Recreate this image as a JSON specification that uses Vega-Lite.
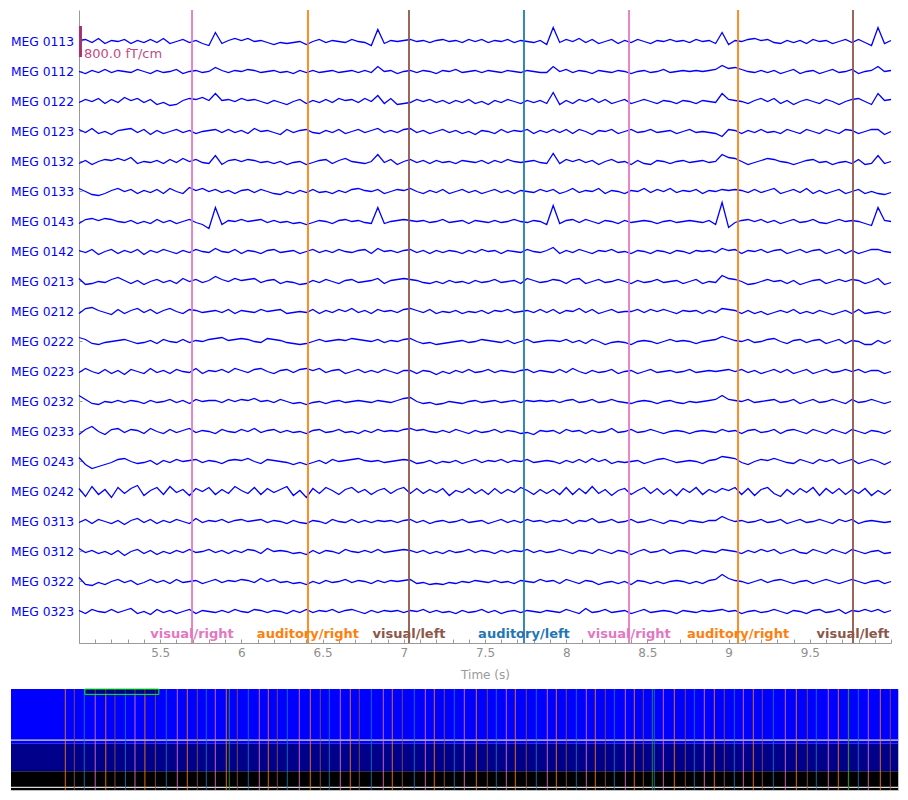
{
"$schema": "https://vega.github.io/schema/vega-lite/v6.json",
"background": "white",
"padding": {"left": 9, "top": 9, "right": 5, "bottom": 5},
"config": {"font": "DejaVu Sans", "view": {"stroke": null}},
"spacing": 8,
"datasets": {
"chans": [{"k":"a","ch":"MEG 0113"},{"k":"b","ch":"MEG 0112"},{"k":"c","ch":"MEG 0122"},{"k":"d","ch":"MEG 0123"},{"k":"e","ch":"MEG 0132"},{"k":"f","ch":"MEG 0133"},{"k":"g","ch":"MEG 0143"},{"k":"h","ch":"MEG 0142"},{"k":"i","ch":"MEG 0213"},{"k":"j","ch":"MEG 0212"},{"k":"k","ch":"MEG 0222"},{"k":"l","ch":"MEG 0223"},{"k":"m","ch":"MEG 0232"},{"k":"n","ch":"MEG 0233"},{"k":"o","ch":"MEG 0243"},{"k":"p","ch":"MEG 0242"},{"k":"q","ch":"MEG 0313"},{"k":"r","ch":"MEG 0312"},{"k":"s","ch":"MEG 0322"},{"k":"u","ch":"MEG 0323"}],
"sig": [
{"t":5,"a":1,"b":0,"c":-1,"d":2,"e":-2,"f":3,"g":-2,"h":1,"i":3,"j":-2,"k":4,"l":-1,"m":6,"n":-3,"o":4,"p":3,"q":-1,"r":3,"s":4,"u":1},
{"t":5.04,"a":2,"b":-2,"c":2,"d":-1,"e":1,"f":0,"g":2,"h":-1,"i":-3,"j":3,"k":2,"l":3,"m":2,"n":2,"o":-3,"p":-5,"q":2,"r":-1,"s":-3,"u":-2},
{"t":5.08,"a":-1,"b":1,"c":0,"d":3,"e":-3,"f":-3,"g":3,"h":2,"i":-2,"j":4,"k":-2,"l":0,"m":-2,"n":5,"o":-7,"p":5,"q":-2,"r":1,"s":-4,"u":2},
{"t":5.12,"a":3,"b":-1,"c":3,"d":-2,"e":0,"f":-4,"g":1,"h":-3,"i":0,"j":1,"k":-3,"l":-2,"m":-3,"n":0,"o":-5,"p":-3,"q":2,"r":-2,"s":-1,"u":0},
{"t":5.16,"a":-2,"b":2,"c":-2,"d":0,"e":2,"f":-2,"g":3,"h":0,"i":-1,"j":-1,"k":-1,"l":2,"m":0,"n":-3,"o":-3,"p":2,"q":0,"r":0,"s":-3,"u":-1},
{"t":5.2,"a":1,"b":-1,"c":2,"d":-3,"e":1,"f":1,"g":2,"h":2,"i":2,"j":-3,"k":0,"l":-2,"m":-1,"n":2,"o":-1,"p":-6,"q":-2,"r":-3,"s":0,"u":2},
{"t":5.24,"a":0,"b":1,"c":-1,"d":1,"e":3,"f":3,"g":0,"h":-2,"i":4,"j":2,"k":1,"l":1,"m":1,"n":3,"o":2,"p":4,"q":1,"r":1,"s":2,"u":-1},
{"t":5.28,"a":2,"b":0,"c":4,"d":2,"e":1,"f":0,"g":-1,"h":1,"i":1,"j":-2,"k":2,"l":-3,"m":-1,"n":-1,"o":3,"p":-2,"q":-3,"r":-4,"s":-1,"u":1},
{"t":5.32,"a":-2,"b":-1,"c":1,"d":3,"e":4,"f":2,"g":1,"h":-1,"i":-2,"j":1,"k":0,"l":2,"m":1,"n":2,"o":0,"p":3,"q":1,"r":0,"s":1,"u":3},
{"t":5.36,"a":1,"b":2,"c":3,"d":-1,"e":-2,"f":-2,"g":-2,"h":2,"i":1,"j":3,"k":-2,"l":0,"m":0,"n":1,"o":-2,"p":6,"q":3,"r":2,"s":-3,"u":-2},
{"t":5.4,"a":-1,"b":0,"c":-1,"d":2,"e":0,"f":1,"g":0,"h":-3,"i":-3,"j":-1,"k":-1,"l":-2,"m":-2,"n":-2,"o":-1,"p":-4,"q":-1,"r":-2,"s":-1,"u":0},
{"t":5.44,"a":2,"b":-2,"c":2,"d":-3,"e":-1,"f":-1,"g":-2,"h":1,"i":0,"j":2,"k":1,"l":3,"m":1,"n":3,"o":1,"p":1,"q":2,"r":1,"s":2,"u":-3},
{"t":5.48,"a":-1,"b":1,"c":-3,"d":1,"e":1,"f":2,"g":2,"h":-1,"i":2,"j":-2,"k":-2,"l":-1,"m":-1,"n":0,"o":-3,"p":4,"q":-2,"r":-3,"s":-1,"u":2},
{"t":5.52,"a":3,"b":-1,"c":-1,"d":-2,"e":-2,"f":-2,"g":-1,"h":2,"i":-1,"j":1,"k":2,"l":1,"m":0,"n":-2,"o":1,"p":-3,"q":1,"r":0,"s":1,"u":-1},
{"t":5.56,"a":-2,"b":0,"c":-4,"d":0,"e":2,"f":3,"g":1,"h":0,"i":1,"j":3,"k":0,"l":-2,"m":2,"n":2,"o":-1,"p":5,"q":-1,"r":-2,"s":-2,"u":1},
{"t":5.6,"a":0,"b":2,"c":-3,"d":2,"e":-1,"f":0,"g":-2,"h":-2,"i":-2,"j":0,"k":-1,"l":2,"m":-1,"n":-1,"o":2,"p":-1,"q":2,"r":1,"s":2,"u":-2},
{"t":5.64,"a":2,"b":-2,"c":1,"d":-1,"e":3,"f":-2,"g":0,"h":1,"i":3,"j":-2,"k":2,"l":0,"m":1,"n":1,"o":0,"p":2,"q":0,"r":-1,"s":-1,"u":0},
{"t":5.68,"a":-1,"b":0,"c":3,"d":1,"e":0,"f":4,"g":2,"h":-1,"i":0,"j":2,"k":-1,"l":-1,"m":-2,"n":3,"o":1,"p":-4,"q":-2,"r":2,"s":0,"u":2},
{"t":5.72,"a":1,"b":1,"c":2,"d":-2,"e":2,"f":1,"g":-1,"h":2,"i":2,"j":1,"k":1,"l":3,"m":2,"n":-1,"o":2,"p":3,"q":3,"r":-1,"s":1,"u":-2},
{"t":5.76,"a":-2,"b":-1,"c":4,"d":0,"e":-1,"f":3,"g":-3,"h":0,"i":-1,"j":-1,"k":0,"l":-2,"m":0,"n":1,"o":-1,"p":0,"q":-1,"r":0,"s":-2,"u":1},
{"t":5.8,"a":-4,"b":0,"c":1,"d":1,"e":-2,"f":0,"g":-7,"h":-1,"i":1,"j":0,"k":2,"l":1,"m":1,"n":0,"o":1,"p":4,"q":1,"r":2,"s":0,"u":0},
{"t":5.84,"a":9,"b":4,"c":8,"d":2,"e":6,"f":2,"g":14,"h":3,"i":5,"j":1,"k":3,"l":0,"m":1,"n":-2,"o":0,"p":-3,"q":0,"r":-1,"s":2,"u":-1},
{"t":5.88,"a":-2,"b":1,"c":1,"d":-1,"e":-3,"f":-1,"g":-3,"h":0,"i":2,"j":-1,"k":4,"l":2,"m":-1,"n":2,"o":-2,"p":2,"q":2,"r":1,"s":-1,"u":1},
{"t":5.92,"a":1,"b":-1,"c":2,"d":2,"e":1,"f":1,"g":1,"h":-1,"i":0,"j":2,"k":1,"l":-1,"m":2,"n":0,"o":1,"p":-2,"q":-1,"r":-2,"s":1,"u":-1},
{"t":5.96,"a":3,"b":1,"c":0,"d":-1,"e":2,"f":-2,"g":0,"h":2,"i":3,"j":-2,"k":2,"l":3,"m":0,"n":-1,"o":2,"p":5,"q":1,"r":1,"s":0,"u":2},
{"t":6,"a":1,"b":0,"c":3,"d":1,"e":0,"f":1,"g":2,"h":-2,"i":1,"j":1,"k":3,"l":1,"m":2,"n":2,"o":1,"p":1,"q":2,"r":-1,"s":2,"u":0},
{"t":6.04,"a":3,"b":2,"c":1,"d":-2,"e":2,"f":2,"g":0,"h":1,"i":2,"j":0,"k":2,"l":-1,"m":1,"n":0,"o":3,"p":-2,"q":0,"r":2,"s":1,"u":-1},
{"t":6.08,"a":0,"b":1,"c":2,"d":3,"e":1,"f":-1,"g":1,"h":0,"i":3,"j":-1,"k":0,"l":2,"m":3,"n":3,"o":0,"p":4,"q":1,"r":1,"s":-1,"u":2},
{"t":6.12,"a":1,"b":-1,"c":0,"d":0,"e":-1,"f":2,"g":2,"h":-2,"i":-1,"j":2,"k":-1,"l":3,"m":0,"n":-1,"o":-2,"p":-3,"q":2,"r":-2,"s":3,"u":1},
{"t":6.16,"a":-1,"b":0,"c":-2,"d":1,"e":0,"f":0,"g":-1,"h":1,"i":1,"j":0,"k":3,"l":0,"m":1,"n":1,"o":2,"p":3,"q":-1,"r":3,"s":0,"u":-1},
{"t":6.2,"a":-3,"b":1,"c":1,"d":-1,"e":-2,"f":-2,"g":1,"h":2,"i":2,"j":1,"k":2,"l":-2,"m":-1,"n":2,"o":1,"p":-1,"q":1,"r":0,"s":2,"u":1},
{"t":6.24,"a":-1,"b":-1,"c":-1,"d":-3,"e":0,"f":-3,"g":-1,"h":-1,"i":-2,"j":2,"k":1,"l":1,"m":2,"n":-1,"o":0,"p":2,"q":0,"r":1,"s":-1,"u":0},
{"t":6.28,"a":-2,"b":0,"c":-3,"d":2,"e":-3,"f":0,"g":0,"h":0,"i":0,"j":-2,"k":-1,"l":2,"m":0,"n":1,"o":-1,"p":5,"q":-2,"r":0,"s":0,"u":-2},
{"t":6.32,"a":-1,"b":-2,"c":0,"d":-1,"e":-1,"f":-2,"g":-2,"h":1,"i":-1,"j":-1,"k":-2,"l":-1,"m":-2,"n":-1,"o":-3,"p":-4,"q":1,"r":-2,"s":-2,"u":1},
{"t":6.36,"a":0,"b":1,"c":2,"d":1,"e":0,"f":1,"g":-1,"h":-2,"i":-3,"j":0,"k":-3,"l":2,"m":-1,"n":0,"o":-1,"p":1,"q":-1,"r":-1,"s":-1,"u":-1},
{"t":6.4,"a":-3,"b":-1,"c":-2,"d":2,"e":-3,"f":-1,"g":-3,"h":0,"i":-2,"j":-1,"k":-2,"l":3,"m":-3,"n":-2,"o":-3,"p":-6,"q":-2,"r":-3,"s":-3,"u":2},
{"t":6.44,"a":0,"b":1,"c":1,"d":-1,"e":-1,"f":2,"g":-1,"h":2,"i":1,"j":2,"k":0,"l":1,"m":-1,"n":1,"o":-1,"p":3,"q":1,"r":1,"s":0,"u":-1},
{"t":6.48,"a":2,"b":-1,"c":-1,"d":-2,"e":1,"f":-1,"g":1,"h":-1,"i":-1,"j":-2,"k":2,"l":3,"m":0,"n":2,"o":1,"p":-2,"q":0,"r":-2,"s":-2,"u":1},
{"t":6.52,"a":-1,"b":0,"c":2,"d":1,"e":2,"f":0,"g":0,"h":1,"i":2,"j":1,"k":0,"l":-1,"m":-2,"n":-1,"o":-2,"p":4,"q":-2,"r":1,"s":1,"u":0},
{"t":6.56,"a":1,"b":1,"c":-1,"d":-1,"e":-2,"f":-2,"g":-2,"h":-1,"i":0,"j":-1,"k":1,"l":1,"m":0,"n":0,"o":2,"p":1,"q":2,"r":0,"s":-1,"u":2},
{"t":6.6,"a":0,"b":-1,"c":3,"d":2,"e":1,"f":1,"g":1,"h":2,"i":-2,"j":2,"k":2,"l":2,"m":1,"n":2,"o":0,"p":-3,"q":0,"r":-2,"s":0,"u":-1},
{"t":6.64,"a":-1,"b":0,"c":1,"d":-2,"e":3,"f":-1,"g":2,"h":0,"i":1,"j":0,"k":1,"l":-2,"m":-1,"n":-1,"o":1,"p":2,"q":-1,"r":2,"s":2,"u":1},
{"t":6.68,"a":2,"b":1,"c":2,"d":0,"e":0,"f":2,"g":0,"h":-1,"i":2,"j":3,"k":3,"l":0,"m":0,"n":0,"o":2,"p":4,"q":2,"r":0,"s":-1,"u":2},
{"t":6.72,"a":0,"b":-1,"c":-1,"d":2,"e":-1,"f":3,"g":1,"h":1,"i":-1,"j":-1,"k":2,"l":2,"m":1,"n":-2,"o":3,"p":-1,"q":-1,"r":-1,"s":1,"u":0},
{"t":6.76,"a":-1,"b":1,"c":3,"d":-1,"e":-2,"f":1,"g":-1,"h":2,"i":0,"j":1,"k":1,"l":-1,"m":0,"n":1,"o":1,"p":2,"q":1,"r":1,"s":0,"u":-2},
{"t":6.8,"a":-4,"b":-1,"c":0,"d":1,"e":0,"f":0,"g":-2,"h":-2,"i":1,"j":-2,"k":0,"l":1,"m":-1,"n":-1,"o":0,"p":-3,"q":-1,"r":-1,"s":-2,"u":1},
{"t":6.84,"a":12,"b":5,"c":6,"d":3,"e":7,"f":2,"g":14,"h":3,"i":3,"j":2,"k":2,"l":-1,"m":1,"n":2,"o":1,"p":1,"q":1,"r":2,"s":1,"u":-1},
{"t":6.88,"a":-2,"b":0,"c":-2,"d":-1,"e":-1,"f":-2,"g":-2,"h":0,"i":-2,"j":0,"k":-1,"l":2,"m":0,"n":0,"o":-1,"p":3,"q":0,"r":-1,"s":-1,"u":1},
{"t":6.92,"a":1,"b":1,"c":3,"d":1,"e":2,"f":0,"g":0,"h":1,"i":1,"j":1,"k":1,"l":0,"m":-1,"n":1,"o":0,"p":-2,"q":1,"r":0,"s":1,"u":0},
{"t":6.96,"a":0,"b":-2,"c":-3,"d":-1,"e":-3,"f":2,"g":1,"h":-1,"i":2,"j":-1,"k":0,"l":-2,"m":1,"n":0,"o":1,"p":2,"q":-1,"r":1,"s":0,"u":1},
{"t":7,"a":1,"b":0,"c":-2,"d":2,"e":0,"f":1,"g":2,"h":1,"i":3,"j":2,"k":2,"l":1,"m":3,"n":2,"o":2,"p":4,"q":1,"r":2,"s":1,"u":-1},
{"t":7.04,"a":2,"b":1,"c":-1,"d":3,"e":2,"f":3,"g":1,"h":2,"i":2,"j":3,"k":3,"l":1,"m":4,"n":3,"o":1,"p":-2,"q":2,"r":1,"s":2,"u":1},
{"t":7.08,"a":0,"b":-1,"c":2,"d":-1,"e":-1,"f":0,"g":0,"h":-1,"i":1,"j":1,"k":0,"l":-2,"m":0,"n":1,"o":-2,"p":3,"q":-1,"r":-1,"s":-2,"u":0},
{"t":7.12,"a":1,"b":1,"c":0,"d":1,"e":1,"f":-2,"g":1,"h":1,"i":-1,"j":-1,"k":-2,"l":1,"m":-2,"n":2,"o":-1,"p":-2,"q":1,"r":1,"s":-1,"u":2},
{"t":7.16,"a":-1,"b":0,"c":2,"d":-2,"e":-2,"f":1,"g":-1,"h":-2,"i":-2,"j":2,"k":-1,"l":0,"m":-1,"n":0,"o":1,"p":2,"q":-2,"r":-2,"s":-3,"u":-1},
{"t":7.2,"a":1,"b":-2,"c":-1,"d":0,"e":1,"f":-1,"g":0,"h":1,"i":0,"j":-2,"k":-3,"l":-3,"m":-3,"n":-1,"o":-2,"p":-1,"q":0,"r":0,"s":-2,"u":1},
{"t":7.24,"a":2,"b":1,"c":1,"d":2,"e":-1,"f":2,"g":2,"h":-1,"i":-2,"j":0,"k":-2,"l":0,"m":-2,"n":1,"o":0,"p":3,"q":1,"r":-2,"s":-3,"u":-1},
{"t":7.28,"a":0,"b":0,"c":-2,"d":-1,"e":0,"f":-2,"g":-1,"h":1,"i":1,"j":-1,"k":-1,"l":-2,"m":0,"n":-1,"o":-1,"p":-4,"q":-1,"r":1,"s":-1,"u":0},
{"t":7.32,"a":1,"b":2,"c":1,"d":1,"e":-2,"f":0,"g":0,"h":0,"i":-1,"j":1,"k":0,"l":1,"m":-1,"n":2,"o":1,"p":1,"q":0,"r":-1,"s":-2,"u":-2},
{"t":7.36,"a":-1,"b":-1,"c":-1,"d":-2,"e":1,"f":2,"g":1,"h":-2,"i":0,"j":-2,"k":1,"l":-1,"m":-2,"n":0,"o":-2,"p":-1,"q":2,"r":0,"s":0,"u":1},
{"t":7.4,"a":2,"b":0,"c":2,"d":0,"e":0,"f":-1,"g":-2,"h":1,"i":-2,"j":0,"k":-1,"l":2,"m":0,"n":-2,"o":0,"p":3,"q":-1,"r":2,"s":-1,"u":-1},
{"t":7.44,"a":0,"b":1,"c":-2,"d":-3,"e":-1,"f":1,"g":1,"h":-1,"i":1,"j":-1,"k":0,"l":-1,"m":1,"n":1,"o":2,"p":-2,"q":0,"r":-1,"s":1,"u":0},
{"t":7.48,"a":2,"b":-1,"c":0,"d":1,"e":1,"f":-2,"g":0,"h":2,"i":-1,"j":1,"k":2,"l":0,"m":-1,"n":-1,"o":-1,"p":2,"q":1,"r":1,"s":0,"u":2},
{"t":7.52,"a":-1,"b":1,"c":-3,"d":0,"e":-2,"f":0,"g":-1,"h":0,"i":0,"j":-2,"k":1,"l":2,"m":0,"n":0,"o":1,"p":-3,"q":-2,"r":0,"s":-1,"u":-1},
{"t":7.56,"a":1,"b":0,"c":1,"d":-2,"e":1,"f":2,"g":1,"h":1,"i":2,"j":1,"k":0,"l":-1,"m":1,"n":2,"o":0,"p":3,"q":0,"r":-2,"s":1,"u":1},
{"t":7.6,"a":0,"b":-1,"c":-1,"d":2,"e":-1,"f":-1,"g":-1,"h":-2,"i":-1,"j":0,"k":-1,"l":1,"m":-1,"n":-1,"o":2,"p":-2,"q":2,"r":1,"s":-1,"u":-2},
{"t":7.64,"a":2,"b":1,"c":2,"d":-1,"e":2,"f":1,"g":0,"h":1,"i":0,"j":2,"k":1,"l":0,"m":0,"n":1,"o":-1,"p":2,"q":-1,"r":-1,"s":0,"u":0},
{"t":7.68,"a":-1,"b":0,"c":0,"d":1,"e":0,"f":-2,"g":2,"h":0,"i":1,"j":-1,"k":-2,"l":-1,"m":1,"n":0,"o":1,"p":-1,"q":1,"r":1,"s":-2,"u":1},
{"t":7.72,"a":1,"b":-1,"c":-2,"d":0,"e":-1,"f":1,"g":0,"h":-1,"i":-2,"j":0,"k":0,"l":1,"m":-1,"n":-2,"o":0,"p":4,"q":-1,"r":0,"s":1,"u":-1},
{"t":7.76,"a":0,"b":1,"c":1,"d":2,"e":0,"f":0,"g":-1,"h":2,"i":3,"j":1,"k":2,"l":2,"m":1,"n":-1,"o":2,"p":1,"q":2,"r":2,"s":0,"u":1},
{"t":7.8,"a":-1,"b":0,"c":-1,"d":-2,"e":1,"f":-1,"g":1,"h":0,"i":1,"j":-1,"k":-1,"l":-1,"m":0,"n":-3,"o":-1,"p":-3,"q":0,"r":-1,"s":-1,"u":0},
{"t":7.84,"a":1,"b":-1,"c":1,"d":1,"e":-1,"f":2,"g":0,"h":-1,"i":-1,"j":2,"k":0,"l":1,"m":1,"n":1,"o":0,"p":2,"q":1,"r":1,"s":2,"u":-1},
{"t":7.88,"a":-3,"b":-1,"c":-2,"d":-1,"e":-2,"f":0,"g":-3,"h":1,"i":0,"j":-1,"k":1,"l":0,"m":0,"n":0,"o":1,"p":-2,"q":-1,"r":-1,"s":0,"u":1},
{"t":7.92,"a":14,"b":5,"c":9,"d":2,"e":8,"f":2,"g":16,"h":4,"i":2,"j":2,"k":1,"l":-1,"m":1,"n":1,"o":0,"p":2,"q":1,"r":0,"s":1,"u":0},
{"t":7.96,"a":-1,"b":0,"c":-3,"d":-1,"e":-2,"f":-2,"g":-2,"h":-2,"i":1,"j":-2,"k":0,"l":2,"m":-1,"n":-2,"o":-2,"p":-3,"q":0,"r":2,"s":-2,"u":-1},
{"t":8,"a":2,"b":2,"c":1,"d":2,"e":2,"f":0,"g":1,"h":1,"i":-2,"j":1,"k":2,"l":-1,"m":1,"n":2,"o":1,"p":4,"q":2,"r":0,"s":2,"u":2},
{"t":8.04,"a":0,"b":-1,"c":-2,"d":-2,"e":0,"f":3,"g":2,"h":-1,"i":2,"j":0,"k":-1,"l":3,"m":2,"n":0,"o":-1,"p":-3,"q":-2,"r":-2,"s":0,"u":0},
{"t":8.08,"a":3,"b":1,"c":2,"d":2,"e":2,"f":-1,"g":-1,"h":2,"i":3,"j":3,"k":1,"l":0,"m":-1,"n":1,"o":2,"p":3,"q":1,"r":1,"s":-2,"u":-2},
{"t":8.12,"a":-1,"b":0,"c":0,"d":0,"e":-1,"f":1,"g":2,"h":0,"i":-2,"j":-1,"k":-2,"l":-2,"m":0,"n":-2,"o":-1,"p":-2,"q":0,"r":0,"s":1,"u":3},
{"t":8.16,"a":2,"b":-2,"c":3,"d":-3,"e":1,"f":0,"g":0,"h":-2,"i":0,"j":2,"k":2,"l":1,"m":2,"n":1,"o":3,"p":5,"q":3,"r":-2,"s":0,"u":-1},
{"t":8.2,"a":-2,"b":1,"c":-1,"d":1,"e":-3,"f":3,"g":-2,"h":1,"i":2,"j":-2,"k":0,"l":-1,"m":-1,"n":-1,"o":0,"p":-2,"q":-1,"r":2,"s":-3,"u":0},
{"t":8.24,"a":0,"b":0,"c":2,"d":0,"e":0,"f":-2,"g":1,"h":0,"i":-1,"j":0,"k":-3,"l":0,"m":0,"n":0,"o":2,"p":2,"q":0,"r":0,"s":-1,"u":2},
{"t":8.28,"a":2,"b":-1,"c":-2,"d":2,"e":2,"f":1,"g":0,"h":2,"i":0,"j":2,"k":-1,"l":2,"m":2,"n":3,"o":-2,"p":-4,"q":2,"r":-2,"s":0,"u":-1},
{"t":8.32,"a":-2,"b":1,"c":0,"d":-2,"e":-1,"f":0,"g":-2,"h":-1,"i":2,"j":-1,"k":0,"l":-2,"m":0,"n":-1,"o":0,"p":1,"q":-1,"r":1,"s":-2,"u":0},
{"t":8.36,"a":1,"b":0,"c":2,"d":0,"e":0,"f":-2,"g":1,"h":0,"i":0,"j":0,"k":-1,"l":0,"m":-1,"n":0,"o":-1,"p":3,"q":0,"r":0,"s":0,"u":1},
{"t":8.4,"a":-1,"b":-2,"c":-2,"d":2,"e":-3,"f":1,"g":-1,"h":-2,"i":-2,"j":0,"k":-3,"l":1,"m":-2,"n":2,"o":0,"p":-3,"q":2,"r":-3,"s":-3,"u":-2},
{"t":8.44,"a":2,"b":0,"c":0,"d":-1,"e":1,"f":0,"g":0,"h":1,"i":1,"j":2,"k":0,"l":-2,"m":0,"n":-1,"o":1,"p":1,"q":-1,"r":0,"s":1,"u":0},
{"t":8.48,"a":0,"b":1,"c":2,"d":0,"e":-2,"f":3,"g":1,"h":0,"i":-1,"j":-1,"k":1,"l":0,"m":1,"n":0,"o":-2,"p":4,"q":0,"r":2,"s":0,"u":2},
{"t":8.52,"a":-2,"b":-1,"c":0,"d":2,"e":-3,"f":-1,"g":0,"h":-2,"i":0,"j":2,"k":0,"l":2,"m":0,"n":2,"o":0,"p":-2,"q":2,"r":-1,"s":-2,"u":-1},
{"t":8.56,"a":1,"b":0,"c":-2,"d":-1,"e":1,"f":2,"g":-2,"h":1,"i":2,"j":0,"k":-2,"l":-1,"m":-2,"n":0,"o":2,"p":3,"q":0,"r":0,"s":0,"u":0},
{"t":8.6,"a":0,"b":2,"c":1,"d":0,"e":0,"f":0,"g":0,"h":0,"i":-1,"j":2,"k":0,"l":0,"m":0,"n":-2,"o":3,"p":-3,"q":-2,"r":2,"s":-2,"u":1},
{"t":8.64,"a":2,"b":-1,"c":0,"d":1,"e":-2,"f":3,"g":1,"h":-2,"i":0,"j":0,"k":2,"l":1,"m":1,"n":0,"o":1,"p":2,"q":1,"r":-2,"s":0,"u":0},
{"t":8.68,"a":0,"b":0,"c":-2,"d":-2,"e":0,"f":-1,"g":-1,"h":1,"i":1,"j":-2,"k":0,"l":-1,"m":-1,"n":1,"o":-1,"p":-4,"q":0,"r":0,"s":1,"u":-2},
{"t":8.72,"a":1,"b":1,"c":1,"d":0,"e":1,"f":1,"g":0,"h":0,"i":-2,"j":1,"k":1,"l":0,"m":-2,"n":0,"o":0,"p":3,"q":-2,"r":1,"s":0,"u":1},
{"t":8.76,"a":-1,"b":0,"c":0,"d":2,"e":-1,"f":0,"g":1,"h":-2,"i":0,"j":0,"k":0,"l":2,"m":0,"n":-2,"o":1,"p":-1,"q":1,"r":0,"s":-2,"u":0},
{"t":8.8,"a":2,"b":1,"c":-2,"d":-1,"e":0,"f":2,"g":0,"h":1,"i":2,"j":1,"k":-2,"l":-1,"m":-1,"n":0,"o":0,"p":4,"q":0,"r":-2,"s":0,"u":-1},
{"t":8.84,"a":0,"b":0,"c":1,"d":0,"e":1,"f":-2,"g":-1,"h":0,"i":-2,"j":-2,"k":0,"l":0,"m":0,"n":1,"o":-2,"p":-3,"q":-1,"r":1,"s":-2,"u":1},
{"t":8.88,"a":1,"b":1,"c":0,"d":-1,"e":-1,"f":1,"g":1,"h":1,"i":0,"j":1,"k":1,"l":1,"m":1,"n":0,"o":1,"p":2,"q":1,"r":0,"s":1,"u":0},
{"t":8.92,"a":-2,"b":2,"c":-1,"d":-2,"e":0,"f":0,"g":-3,"h":-1,"i":-1,"j":-1,"k":2,"l":0,"m":2,"n":-1,"o":2,"p":-1,"q":1,"r":-1,"s":2,"u":1},
{"t":8.96,"a":9,"b":6,"c":8,"d":-5,"e":7,"f":2,"g":19,"h":3,"i":6,"j":3,"k":5,"l":1,"m":6,"n":2,"o":5,"p":3,"q":5,"r":2,"s":7,"u":2},
{"t":9,"a":-3,"b":3,"c":2,"d":2,"e":4,"f":1,"g":-6,"h":1,"i":3,"j":2,"k":3,"l":2,"m":2,"n":0,"o":4,"p":1,"q":2,"r":1,"s":3,"u":0},
{"t":9.04,"a":1,"b":4,"c":1,"d":1,"e":3,"f":2,"g":-1,"h":2,"i":2,"j":1,"k":1,"l":0,"m":1,"n":1,"o":3,"p":4,"q":0,"r":0,"s":1,"u":1},
{"t":9.08,"a":0,"b":2,"c":0,"d":-2,"e":0,"f":1,"g":1,"h":-2,"i":0,"j":-2,"k":0,"l":2,"m":0,"n":-2,"o":-1,"p":-3,"q":1,"r":-2,"s":0,"u":-2},
{"t":9.12,"a":2,"b":0,"c":-2,"d":1,"e":-3,"f":-1,"g":2,"h":1,"i":-3,"j":1,"k":2,"l":-1,"m":2,"n":1,"o":-3,"p":3,"q":-1,"r":1,"s":-2,"u":0},
{"t":9.16,"a":3,"b":-1,"c":1,"d":-1,"e":-1,"f":2,"g":0,"h":0,"i":-2,"j":-2,"k":-1,"l":1,"m":-1,"n":2,"o":0,"p":-4,"q":0,"r":-1,"s":0,"u":1},
{"t":9.2,"a":1,"b":1,"c":3,"d":2,"e":1,"f":-1,"g":2,"h":2,"i":0,"j":0,"k":0,"l":-2,"m":0,"n":-1,"o":2,"p":2,"q":2,"r":2,"s":2,"u":-1},
{"t":9.24,"a":2,"b":-1,"c":0,"d":-1,"e":3,"f":1,"g":-1,"h":-1,"i":2,"j":-3,"k":2,"l":0,"m":1,"n":0,"o":1,"p":4,"q":-1,"r":0,"s":-1,"u":0},
{"t":9.28,"a":-1,"b":1,"c":3,"d":0,"e":2,"f":3,"g":1,"h":1,"i":0,"j":-1,"k":3,"l":2,"m":2,"n":2,"o":3,"p":-2,"q":0,"r":2,"s":1,"u":2},
{"t":9.32,"a":-2,"b":-2,"c":-2,"d":-2,"e":0,"f":-2,"g":-2,"h":2,"i":1,"j":1,"k":0,"l":-1,"m":-1,"n":-2,"o":1,"p":-5,"q":2,"r":-2,"s":2,"u":0},
{"t":9.36,"a":1,"b":0,"c":1,"d":2,"e":-1,"f":0,"g":0,"h":-2,"i":-2,"j":-1,"k":-2,"l":2,"m":0,"n":1,"o":-1,"p":2,"q":-2,"r":0,"s":0,"u":-2},
{"t":9.4,"a":-1,"b":2,"c":-3,"d":0,"e":-3,"f":2,"g":2,"h":0,"i":1,"j":2,"k":1,"l":-2,"m":2,"n":2,"o":-2,"p":-3,"q":0,"r":2,"s":-2,"u":1},
{"t":9.44,"a":1,"b":-2,"c":0,"d":-2,"e":-1,"f":-1,"g":-1,"h":2,"i":-3,"j":-2,"k":2,"l":0,"m":-2,"n":0,"o":2,"p":3,"q":2,"r":-1,"s":0,"u":0},
{"t":9.48,"a":-2,"b":0,"c":2,"d":2,"e":1,"f":3,"g":0,"h":-1,"i":-1,"j":0,"k":-1,"l":2,"m":0,"n":-2,"o":0,"p":-1,"q":-1,"r":-2,"s":1,"u":-2},
{"t":9.52,"a":2,"b":1,"c":0,"d":0,"e":2,"f":-2,"g":2,"h":1,"i":1,"j":-2,"k":1,"l":-2,"m":2,"n":2,"o":-2,"p":4,"q":0,"r":2,"s":-2,"u":1},
{"t":9.56,"a":0,"b":-2,"c":-2,"d":-2,"e":-1,"f":1,"g":-1,"h":2,"i":2,"j":1,"k":2,"l":0,"m":-1,"n":0,"o":2,"p":-4,"q":2,"r":0,"s":0,"u":2},
{"t":9.6,"a":1,"b":0,"c":2,"d":2,"e":0,"f":-2,"g":-2,"h":-2,"i":-2,"j":-1,"k":-2,"l":2,"m":0,"n":-2,"o":0,"p":3,"q":0,"r":-2,"s":2,"u":-1},
{"t":9.64,"a":-2,"b":2,"c":0,"d":0,"e":-3,"f":0,"g":0,"h":0,"i":0,"j":-3,"k":0,"l":-1,"m":2,"n":2,"o":2,"p":-2,"q":-2,"r":2,"s":0,"u":0},
{"t":9.68,"a":0,"b":-1,"c":-3,"d":-2,"e":-1,"f":2,"g":2,"h":2,"i":2,"j":-1,"k":2,"l":0,"m":0,"n":0,"o":-2,"p":3,"q":2,"r":0,"s":-2,"u":2},
{"t":9.72,"a":2,"b":0,"c":0,"d":2,"e":0,"f":-2,"g":0,"h":-2,"i":0,"j":1,"k":-2,"l":2,"m":-2,"n":-2,"o":0,"p":-3,"q":0,"r":-2,"s":0,"u":-2},
{"t":9.76,"a":-1,"b":2,"c":2,"d":1,"e":-2,"f":0,"g":1,"h":1,"i":2,"j":-2,"k":1,"l":0,"m":2,"n":2,"o":2,"p":2,"q":2,"r":2,"s":2,"u":1},
{"t":9.8,"a":2,"b":-2,"c":3,"d":-2,"e":2,"f":2,"g":0,"h":-2,"i":1,"j":2,"k":0,"l":2,"m":-1,"n":0,"o":-2,"p":-2,"q":-2,"r":0,"s":0,"u":0},
{"t":9.84,"a":-1,"b":0,"c":0,"d":0,"e":-3,"f":-2,"g":-2,"h":0,"i":-2,"j":-2,"k":-3,"l":-1,"m":0,"n":-2,"o":0,"p":3,"q":0,"r":-2,"s":-2,"u":2},
{"t":9.88,"a":-4,"b":1,"c":-3,"d":2,"e":-2,"f":0,"g":-4,"h":2,"i":0,"j":-1,"k":-3,"l":1,"m":2,"n":1,"o":2,"p":-4,"q":1,"r":0,"s":0,"u":0},
{"t":9.92,"a":14,"b":5,"c":8,"d":2,"e":6,"f":-2,"g":14,"h":2,"i":3,"j":0,"k":1,"l":1,"m":0,"n":0,"o":0,"p":1,"q":0,"r":1,"s":1,"u":2},
{"t":9.96,"a":-2,"b":0,"c":1,"d":-3,"e":-2,"f":-3,"g":1,"h":0,"i":-3,"j":-2,"k":-2,"l":-2,"m":-2,"n":-2,"o":-3,"p":-3,"q":-1,"r":-2,"s":-2,"u":-1},
{"t":10,"a":1,"b":1,"c":2,"d":0,"e":0,"f":-1,"g":0,"h":-1,"i":-1,"j":0,"k":1,"l":0,"m":0,"n":1,"o":0,"p":2,"q":0,"r":-1,"s":0,"u":1}
],
"events": [
{"t":3.673,"ev":"auditory/right"},{"t":4.282,"ev":"visual/left"},{"t":4.958,"ev":"auditory/left"},{"t":5.696,"ev":"visual/right"},
{"t":6.41,"ev":"auditory/right"},{"t":7.032,"ev":"visual/left"},{"t":7.74,"ev":"auditory/left"},{"t":8.387,"ev":"visual/right"},
{"t":9.058,"ev":"auditory/right"},{"t":9.766,"ev":"visual/left"},{"t":10.505,"ev":"auditory/left"},{"t":11.249,"ev":"visual/right"},
{"t":11.926,"ev":"auditory/right"},{"t":12.602,"ev":"visual/left"},{"t":13.211,"ev":"auditory/left"},{"t":13.82,"ev":"visual/right"},
{"t":14.564,"ev":"auditory/right"},{"t":14.767,"ev":"button"},{"t":15.308,"ev":"visual/left"},{"t":16.052,"ev":"auditory/left"},
{"t":16.796,"ev":"visual/right"},{"t":17.405,"ev":"auditory/right"},{"t":18.014,"ev":"visual/left"},{"t":18.69,"ev":"auditory/left"},
{"t":19.502,"ev":"visual/right"},{"t":20.246,"ev":"auditory/right"},{"t":20.923,"ev":"visual/left"},{"t":21.532,"ev":"auditory/left"},
{"t":22.276,"ev":"visual/right"},{"t":22.952,"ev":"auditory/right"},{"t":23.561,"ev":"visual/left"},{"t":24.373,"ev":"auditory/left"},
{"t":25.184,"ev":"visual/right"},{"t":25.793,"ev":"auditory/right"},{"t":26.47,"ev":"visual/left"},{"t":27.281,"ev":"auditory/left"},
{"t":28.026,"ev":"visual/right"},{"t":28.634,"ev":"auditory/right"},{"t":29.311,"ev":"visual/left"},{"t":29.987,"ev":"auditory/left"},
{"t":30.664,"ev":"visual/right"},{"t":31.476,"ev":"auditory/right"},{"t":32.22,"ev":"visual/left"},{"t":32.828,"ev":"auditory/left"},
{"t":33.505,"ev":"visual/right"},{"t":34.114,"ev":"auditory/right"},{"t":34.858,"ev":"visual/left"},{"t":35.534,"ev":"auditory/left"},
{"t":36.278,"ev":"visual/right"},{"t":36.887,"ev":"auditory/right"},{"t":37.563,"ev":"visual/left"},{"t":38.24,"ev":"auditory/left"},
{"t":38.917,"ev":"visual/right"},{"t":39.525,"ev":"auditory/right"},{"t":40.202,"ev":"visual/left"},{"t":40.811,"ev":"auditory/left"},
{"t":41.555,"ev":"visual/right"},{"t":42.163,"ev":"auditory/right"},{"t":42.772,"ev":"visual/left"},{"t":43.381,"ev":"button"},
{"t":43.516,"ev":"auditory/left"},{"t":44.125,"ev":"visual/right"},{"t":44.869,"ev":"auditory/right"},{"t":45.613,"ev":"visual/left"},
{"t":46.222,"ev":"auditory/left"},{"t":46.899,"ev":"visual/right"},{"t":47.575,"ev":"auditory/right"},{"t":48.251,"ev":"visual/left"},
{"t":48.928,"ev":"auditory/left"},{"t":49.537,"ev":"visual/right"},{"t":50.213,"ev":"auditory/right"},{"t":50.822,"ev":"visual/left"},
{"t":51.566,"ev":"auditory/left"},{"t":52.378,"ev":"visual/right"},{"t":53.122,"ev":"auditory/right"},{"t":53.866,"ev":"visual/left"},
{"t":54.474,"ev":"auditory/left"},{"t":55.286,"ev":"visual/right"},{"t":55.963,"ev":"auditory/right"},{"t":56.639,"ev":"visual/left"},
{"t":56.66,"ev":"button"},{"t":57.316,"ev":"auditory/left"},{"t":57.992,"ev":"visual/right"},{"t":58.804,"ev":"auditory/right"},
{"t":59.481,"ev":"visual/left"}
],
"scalebar": [{"ch":"MEG 0113","t":5.009,"v":15.5},{"ch":"MEG 0113","t":5.009,"v":-15.5}],
"scalelabel": [{"ch":"MEG 0113","t":5.031,"v":-12,"label":"800.0 fT/cm"}],
"bands": [{"kind":"grad","c0":0,"c1":204},{"kind":"mag","c0":204,"c1":306},{"kind":"other","c0":306,"c1":376}],
"bads": [{"ch":"MEG 2443","i":190.5},{"ch":"EEG 053","i":366.5}],
"viewwin": [{"t0":5,"t1":10,"c0":0,"c1":20}]
},
"vconcat": [
{
"hconcat": [
{
"width": 63,
"height": 633,
"data": {"name": "chans"},
"mark": {"type": "text", "align": "right", "baseline": "middle", "fontSize": 12.3, "color": "#0000ff"},
"encoding": {
"y": {"field": "ch", "type": "nominal", "axis": null,
"scale": {"type": "band", "domain": ["MEG 0113","MEG 0112","MEG 0122","MEG 0123","MEG 0132","MEG 0133","MEG 0143","MEG 0142","MEG 0213","MEG 0212","MEG 0222","MEG 0223","MEG 0232","MEG 0233","MEG 0243","MEG 0242","MEG 0313","MEG 0312","MEG 0322","MEG 0323"], "paddingInner": 0, "paddingOuter": 0.55}},
"x": {"value": "width"},
"text": {"field": "ch"}
}
},
{
"width": 812,
"height": 633,
"layer": [
{
"data": {"name": "sig"},
"transform": [
{"fold": ["a","b","c","d","e","f","g","h","i","j","k","l","m","n","o","p","q","r","s","u"], "as": ["k","v"]},
{"lookup": "k", "from": {"data": {"name": "chans"}, "key": "k", "fields": ["ch"]}}
],
"mark": {"type": "line", "color": "#0000ff", "strokeWidth": 1.3},
"encoding": {
"x": {"field": "t", "type": "quantitative", "scale": {"domain": [5, 10], "nice": false, "zero": false},
"axis": {"title": "Time (s)", "tickCount": 50, "labelExpr": "(datum.value > 5.01 && datum.value < 9.99 && abs(datum.value * 2 - round(datum.value * 2)) < 0.001) ? format(datum.value, '~g') : ''",
"labelOverlap": false, "labelFlush": false, "grid": false, "tickSize": -4, "labelPadding": 8,
"domainColor": "#9a9a9a", "tickColor": "#9a9a9a", "labelColor": "#8f8f8f", "titleColor": "#9a9a9a",
"labelFontSize": 12, "titleFontSize": 12, "titleFontWeight": "normal", "titlePadding": 11}},
"y": {"field": "ch", "type": "nominal",
"scale": {"type": "band", "domain": ["MEG 0113","MEG 0112","MEG 0122","MEG 0123","MEG 0132","MEG 0133","MEG 0143","MEG 0142","MEG 0213","MEG 0212","MEG 0222","MEG 0223","MEG 0232","MEG 0233","MEG 0243","MEG 0242","MEG 0313","MEG 0312","MEG 0322","MEG 0323"], "paddingInner": 0, "paddingOuter": 0.55},
"axis": {"title": null, "labels": false, "tickSize": -3, "domainColor": "#9a9a9a", "tickColor": "#9a9a9a"}},
"yOffset": {"field": "v", "type": "quantitative", "scale": {"domain": [15, -15], "zero": false, "nice": false}},
"detail": {"field": "ch"},
"order": {"field": "t", "type": "quantitative"}
}
},
{
"data": {"name": "events"},
"transform": [{"filter": "datum.t >= 5 && datum.t <= 10"}],
"mark": {"type": "text", "fontWeight": "bold", "fontSize": 13, "baseline": "alphabetic", "align": "center", "dy": -5},
"encoding": {
"x": {"field": "t", "type": "quantitative"},
"y": {"value": "height"},
"text": {"field": "ev"},
"color": {"field": "ev", "type": "nominal", "legend": null,
"scale": {"domain": ["auditory/left","auditory/right","visual/left","visual/right","button"], "range": ["#1f77b4","#ff7f0e","#8c564b","#e377c2","#2ca02c"]}}
}
},
{
"data": {"name": "events"},
"transform": [{"filter": "datum.t >= 5 && datum.t <= 10"}],
"mark": {"type": "rule", "strokeWidth": 2, "opacity": 0.9},
"encoding": {
"x": {"field": "t", "type": "quantitative"},
"color": {"field": "ev", "type": "nominal", "legend": null}
}
},
{
"data": {"name": "scalebar"},
"mark": {"type": "line", "color": "#a3336f", "strokeWidth": 3},
"encoding": {
"x": {"field": "t", "type": "quantitative"},
"y": {"field": "ch", "type": "nominal"},
"yOffset": {"field": "v", "type": "quantitative"},
"order": {"field": "v", "type": "quantitative"}
}
},
{
"data": {"name": "scalelabel"},
"mark": {"type": "text", "align": "left", "baseline": "middle", "fontSize": 13, "color": "#bf4a86"},
"encoding": {
"x": {"field": "t", "type": "quantitative"},
"y": {"field": "ch", "type": "nominal"},
"yOffset": {"field": "v", "type": "quantitative"},
"text": {"field": "label"}
}
}
]
}
],
"spacing": 0
},
{
"width": 887,
"height": 101,
"view": {"stroke": "#bcbcbc", "strokeWidth": 1},
"layer": [
{
"data": {"name": "bands"},
"mark": {"type": "rect"},
"encoding": {
"y": {"field": "c0", "type": "quantitative", "scale": {"domain": [0, 376], "reverse": true, "nice": false, "zero": false}, "axis": null},
"y2": {"field": "c1"},
"fill": {"field": "kind", "type": "nominal", "legend": null, "scale": {"domain": ["grad","mag","other"], "range": ["#0000ff","#00008b","#000000"]}}
}
},
{
"data": {"name": "bads"},
"mark": {"type": "rule", "color": "#d9d9d9", "strokeWidth": 1.3},
"encoding": {
"y": {"field": "i", "type": "quantitative"}
}
},
{
"data": {"name": "events"},
"mark": {"type": "rule", "strokeWidth": 1, "opacity": 0.85},
"encoding": {
"x": {"field": "t", "type": "quantitative", "scale": {"domain": [0, 60], "nice": false, "zero": false}, "axis": null},
"color": {"field": "ev", "type": "nominal", "legend": null}
}
},
{
"data": {"name": "viewwin"},
"mark": {"type": "rect", "fill": "#000000", "fillOpacity": 0.45, "stroke": "#00ff00", "strokeWidth": 1},
"encoding": {
"x": {"field": "t0", "type": "quantitative"},
"x2": {"field": "t1"},
"y": {"field": "c0", "type": "quantitative"},
"y2": {"field": "c1"}
}
}
]
}
]
}
